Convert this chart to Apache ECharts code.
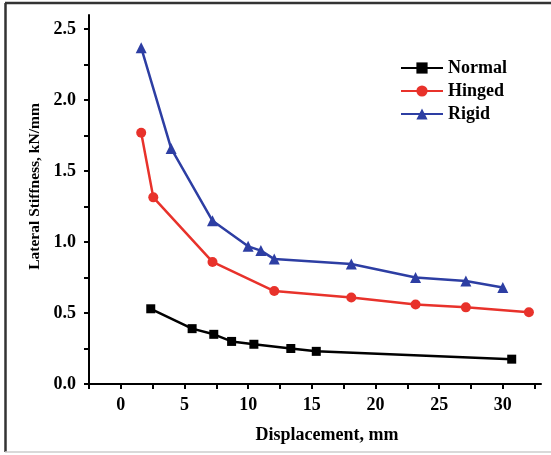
<!DOCTYPE html>
<html>
<head>
<meta charset="utf-8">
<script src="https://cdn.jsdelivr.net/npm/echarts@6/dist/echarts.min.js"></script>
<style>
  html, body { margin: 0; padding: 0; background: #fff; }
  #chart { width: 551px; height: 455px; }
</style>
</head>
<body>
<div id="chart"></div>
<script>
// data
var normalX = [2.35, 5.6, 7.3, 8.7, 10.45, 13.35, 15.35, 30.7];
var normalY = [0.53, 0.39, 0.35, 0.30, 0.28, 0.25, 0.23, 0.175];
var hingedX = [1.6, 2.55, 7.2, 12.05, 18.1, 23.15, 27.1, 32.05];
var hingedY = [1.77, 1.315, 0.86, 0.655, 0.61, 0.56, 0.54, 0.505];
var rigidX = [1.6, 3.95, 7.2, 10.0, 11.0, 12.05, 18.1, 23.15, 27.1, 30.0];
var rigidY = [2.37, 1.66, 1.15, 0.97, 0.94, 0.88, 0.845, 0.75, 0.725, 0.68];

// ticks
var xTicks = [-2.5, 0, 2.5, 5, 7.5, 10, 12.5, 15, 17.5, 20, 22.5, 25, 27.5, 30, 32.5];
var xLabels = [0, 5, 10, 15, 20, 25, 30];
var yTicks = [0, 0.25, 0.5, 0.75, 1, 1.25, 1.5, 1.75, 2, 2.25, 2.5];
var yLabels = [0, 0.5, 1, 1.5, 2, 2.5];

function pairs(xs, ys) {
	return xs.map(function (x, i) { return [x, ys[i]]; });
}

var FONT = '"Liberation Serif", "Times New Roman", serif';

var chart = echarts.init(document.getElementById('chart'));

function lineSeries(name, xs, ys, color, symbol, size) {
	return {
		name: name,
		type: 'line',
		data: pairs(xs, ys),
		symbol: symbol,
		symbolSize: size,
		lineStyle: { color: color, width: 2.5 },
		itemStyle: { color: color },
		animation: false
	};
}

chart.setOption({
	backgroundColor: '#fff',
	grid: { left: 89, right: 10, top: 15, bottom: 71 },
	legend: {
		left: 400,
		top: 59,
		padding: 0,
		orient: 'vertical',
		itemWidth: 42,
		itemHeight: 14,
		itemGap: 5,
		textStyle: { fontFamily: FONT, fontWeight: 'bold', fontSize: 18, color: '#000' },
		data: ['Normal', 'Hinged', 'Rigid']
	},
	xAxis: {
		type: 'value',
		min: -2.5,
		max: 33,
		name: 'Displacement, mm',
		nameLocation: 'middle',
		nameGap: 42,
		nameTextStyle: { fontFamily: FONT, fontWeight: 'bold', fontSize: 18, color: '#000', padding: [0, 0, 0, 24] },
		axisLine: { show: true, onZero: false, lineStyle: { color: '#000', width: 2 } },
		axisTick: { show: true, customValues: xTicks, length: 5, lineStyle: { color: '#000', width: 2 } },
		axisLabel: {
			customValues: xLabels,
			margin: 12,
			fontFamily: FONT, fontWeight: 'bold', fontSize: 18, color: '#000'
		},
		splitLine: { show: false }
	},
	yAxis: {
		type: 'value',
		min: 0,
		max: 2.6,
		name: 'Lateral Stiffness, kN/mm',
		nameLocation: 'middle',
		nameGap: 46,
		nameTextStyle: { fontFamily: FONT, fontWeight: 'bold', fontSize: 15.5, color: '#000', padding: [0, 0, 0, 26] },
		axisLine: { show: true, onZero: false, lineStyle: { color: '#000', width: 2 } },
		axisTick: { show: true, customValues: yTicks, length: 5, lineStyle: { color: '#000', width: 2 } },
		axisLabel: {
			customValues: yLabels,
			margin: 13,
			formatter: function (v) { return v.toFixed(1); },
			fontFamily: FONT, fontWeight: 'bold', fontSize: 18, color: '#000'
		},
		splitLine: { show: false }
	},
	graphic: [
		{ type: 'line', shape: { x1: 5, y1: 3, x2: 551, y2: 3 }, style: { stroke: '#333', lineWidth: 2.5 } },
		{ type: 'line', shape: { x1: 5.5, y1: 3, x2: 5.5, y2: 452 }, style: { stroke: '#333', lineWidth: 2.5 } },
		{ type: 'line', shape: { x1: 5, y1: 452, x2: 551, y2: 452 }, style: { stroke: '#ccc', lineWidth: 1.5 } }
	],
	series: [
		lineSeries('Normal', normalX, normalY, '#000000', 'rect', 9),
		lineSeries('Hinged', hingedX, hingedY, '#e8322b', 'circle', 10),
		lineSeries('Rigid', rigidX, rigidY, '#2d3ea3', 'triangle', 11)
	]
});
</script>
</body>
</html>
